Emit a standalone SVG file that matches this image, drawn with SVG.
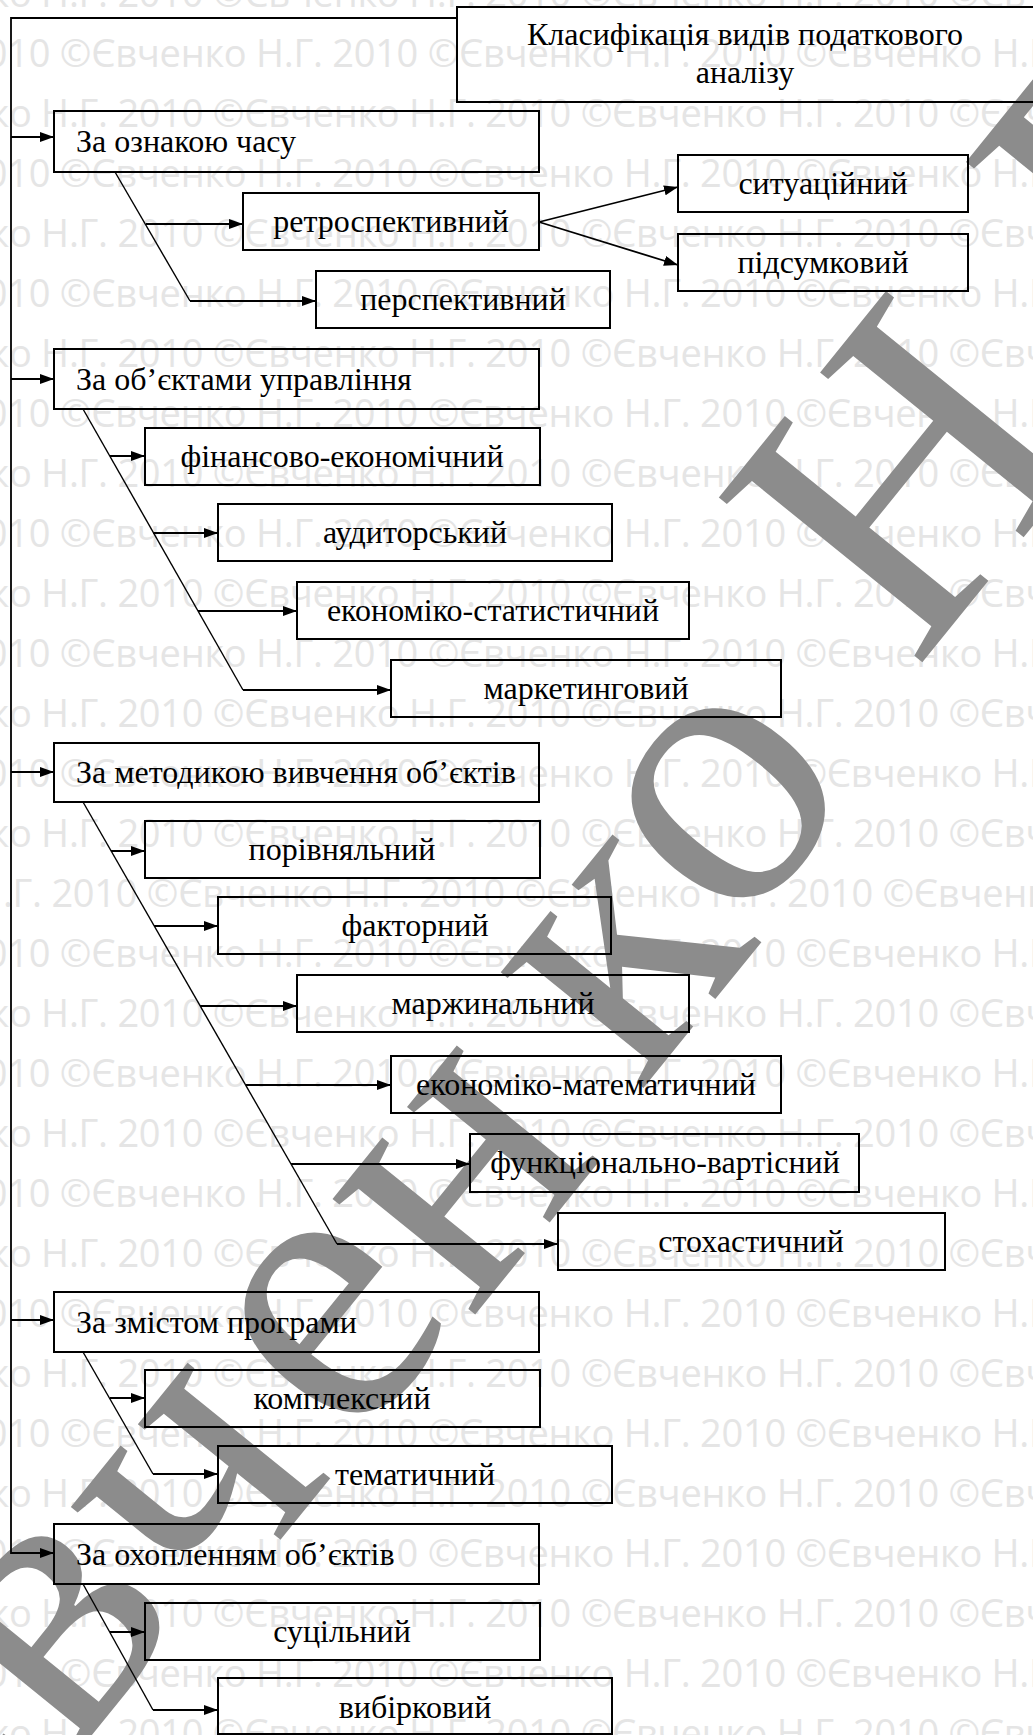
<svg xmlns="http://www.w3.org/2000/svg" xmlns:xlink="http://www.w3.org/1999/xlink" width="1033" height="1735" viewBox="0 0 1033 1735">
  <defs>
    <style>
      .wm { font-family: "Open Sans", "Noto Sans", sans-serif; font-size: 38px; fill: #e5e5e5; }
      .big { font-family: "Liberation Serif", "Times New Roman", serif; font-size: 400px; fill: #8c8c8c; text-anchor: middle; }
      .box { fill: none; stroke: #000; stroke-width: 2; }
      .lbl { font-family: "Liberation Serif", "Times New Roman", serif; font-size: 32px; fill: #000; }
      .c { text-anchor: middle; }
      .arr { fill: none; stroke: #000; stroke-width: 1.8; marker-end: url(#ah); }
      .dg { fill: none; stroke: #000; stroke-width: 1.4; }
    </style>
    <marker id="ah" markerUnits="userSpaceOnUse" markerWidth="14" markerHeight="10" refX="14" refY="5" orient="auto">
      <path d="M0,0 L14,5 L0,10 Z" fill="#000"/>
    </marker>
    <text id="wmrow" class="wm" x="0" y="0" textLength="1462" lengthAdjust="spacing">©Євченко Н.Г. 2010 ©Євченко Н.Г. 2010 ©Євченко Н.Г. 2010 ©Євченко Н.Г. 2010</text>
  </defs>

  <rect width="1033" height="1735" fill="#fff"/>

  <!-- light background watermark rows -->
  <g id="watermark-rows">
    <use xlink:href="#wmrow" x="-155" y="7"/>
    <use xlink:href="#wmrow" x="-308" y="67"/>
    <use xlink:href="#wmrow" x="-155" y="127"/>
    <use xlink:href="#wmrow" x="-308" y="187"/>
    <use xlink:href="#wmrow" x="-155" y="247"/>
    <use xlink:href="#wmrow" x="-308" y="307"/>
    <use xlink:href="#wmrow" x="-155" y="367"/>
    <use xlink:href="#wmrow" x="-308" y="427"/>
    <use xlink:href="#wmrow" x="-155" y="487"/>
    <use xlink:href="#wmrow" x="-308" y="547"/>
    <use xlink:href="#wmrow" x="-155" y="607"/>
    <use xlink:href="#wmrow" x="-308" y="667"/>
    <use xlink:href="#wmrow" x="-155" y="727"/>
    <use xlink:href="#wmrow" x="-308" y="787"/>
    <use xlink:href="#wmrow" x="-155" y="847"/>
    <use xlink:href="#wmrow" x="-221" y="907"/>
    <use xlink:href="#wmrow" x="-308" y="967"/>
    <use xlink:href="#wmrow" x="-155" y="1027"/>
    <use xlink:href="#wmrow" x="-308" y="1087"/>
    <use xlink:href="#wmrow" x="-155" y="1147"/>
    <use xlink:href="#wmrow" x="-308" y="1207"/>
    <use xlink:href="#wmrow" x="-155" y="1267"/>
    <use xlink:href="#wmrow" x="-308" y="1327"/>
    <use xlink:href="#wmrow" x="-155" y="1387"/>
    <use xlink:href="#wmrow" x="-308" y="1447"/>
    <use xlink:href="#wmrow" x="-155" y="1507"/>
    <use xlink:href="#wmrow" x="-308" y="1567"/>
    <use xlink:href="#wmrow" x="-155" y="1627"/>
    <use xlink:href="#wmrow" x="-308" y="1687"/>
    <use xlink:href="#wmrow" x="-155" y="1747"/>
  </g>

  <!-- large diagonal author mark, one glyph per element along the slanted baseline -->
  <g id="watermark-big">
    <text class="big" transform="translate(-13,1865) rotate(-51)">Є</text>
    <text class="big" transform="translate(130,1688) rotate(-51)">в</text>
    <text class="big" transform="translate(273,1549) rotate(-51)">ч</text>
    <text class="big" transform="translate(407,1383) rotate(-51)">е</text>
    <text class="big" transform="translate(538,1237) rotate(-51)">н</text>
    <text class="big" transform="translate(700,1018) rotate(-51)">к</text>
    <text class="big" transform="translate(800,861) rotate(-51)">о</text>
    <text class="big" transform="translate(1006,559) rotate(-51)">Н</text>
    <text class="big" transform="translate(1235,246) rotate(-51)">Г</text>
  </g>

  <!-- connectors -->
  <g id="connectors">
    <path class="arr" d="M457,18 H11 V1553 H54"/>
    <path class="arr" d="M11,137 H54"/>
    <path class="arr" d="M11,379 H54"/>
    <path class="arr" d="M11,772 H54"/>
    <path class="arr" d="M11,1320 H54"/>

    <!-- time -->
    <path class="dg" d="M115,172 L190,301"/>
    <path class="arr" d="M190,301 H316"/>
    <path class="arr" d="M146,224 H243"/>
    <path class="arr" d="M539,222 L678,187"/>
    <path class="arr" d="M539,222 L678,265"/>

    <!-- management objects -->
    <path class="dg" d="M83,409 L243,690"/>
    <path class="arr" d="M243,690 H391"/>
    <path class="arr" d="M110,456 H145"/>
    <path class="arr" d="M153,533 H218"/>
    <path class="arr" d="M198,611 H297"/>

    <!-- study methods -->
    <path class="dg" d="M83,802 L337,1244"/>
    <path class="arr" d="M337,1244 H558"/>
    <path class="arr" d="M111,851 H145"/>
    <path class="arr" d="M154,926 H218"/>
    <path class="arr" d="M200,1006 H297"/>
    <path class="arr" d="M246,1085 H391"/>
    <path class="arr" d="M291,1164 H470"/>

    <!-- programme content -->
    <path class="dg" d="M83,1352 L153,1474"/>
    <path class="arr" d="M153,1474 H218"/>
    <path class="arr" d="M110,1398 H145"/>

    <!-- coverage -->
    <path class="dg" d="M83,1584 L153,1710"/>
    <path class="arr" d="M153,1710 H218"/>
    <path class="arr" d="M110,1632 H145"/>
  </g>

  <!-- nodes -->
  <g id="title">
    <rect class="box" x="457" y="7" width="600" height="95"/>
    <text class="lbl c" x="745" y="45">Класифікація видів податкового</text>
    <text class="lbl c" x="745" y="83">аналізу</text>
  </g>

  <g id="by-time">
    <rect class="box" x="54" y="111" width="485" height="61"/>
    <text class="lbl" x="76" y="152">За ознакою часу</text>
  </g>
  <g id="retrospective">
    <rect class="box" x="243" y="193" width="296" height="57"/>
    <text class="lbl c" x="391" y="232">ретроспективний</text>
  </g>
  <g id="prospective">
    <rect class="box" x="316" y="271" width="294" height="57"/>
    <text class="lbl c" x="463" y="310">перспективний</text>
  </g>
  <g id="situational">
    <rect class="box" x="678" y="155" width="290" height="57"/>
    <text class="lbl c" x="823" y="194">ситуаційний</text>
  </g>
  <g id="summary">
    <rect class="box" x="678" y="234" width="290" height="57"/>
    <text class="lbl c" x="823" y="273">підсумковий</text>
  </g>

  <g id="by-objects">
    <rect class="box" x="54" y="349" width="485" height="60"/>
    <text class="lbl" x="76" y="390">За об’єктами управління</text>
  </g>
  <g id="financial">
    <rect class="box" x="145" y="428" width="395" height="57"/>
    <text class="lbl c" x="342" y="467">фінансово-економічний</text>
  </g>
  <g id="audit">
    <rect class="box" x="218" y="504" width="394" height="57"/>
    <text class="lbl c" x="415" y="543">аудиторський</text>
  </g>
  <g id="statistical">
    <rect class="box" x="297" y="582" width="392" height="57"/>
    <text class="lbl c" x="493" y="621">економіко-статистичний</text>
  </g>
  <g id="marketing">
    <rect class="box" x="391" y="660" width="390" height="57"/>
    <text class="lbl c" x="586" y="699">маркетинговий</text>
  </g>

  <g id="by-method">
    <rect class="box" x="54" y="743" width="485" height="59"/>
    <text class="lbl" x="76" y="783">За методикою вивчення об’єктів</text>
  </g>
  <g id="comparative">
    <rect class="box" x="145" y="821" width="395" height="57"/>
    <text class="lbl c" x="342" y="860">порівняльний</text>
  </g>
  <g id="factor">
    <rect class="box" x="218" y="897" width="393" height="57"/>
    <text class="lbl c" x="415" y="936">факторний</text>
  </g>
  <g id="marginal">
    <rect class="box" x="297" y="975" width="392" height="57"/>
    <text class="lbl c" x="493" y="1014">маржинальний</text>
  </g>
  <g id="math">
    <rect class="box" x="391" y="1056" width="390" height="57"/>
    <text class="lbl c" x="586" y="1095">економіко-математичний</text>
  </g>
  <g id="value">
    <rect class="box" x="470" y="1134" width="389" height="58"/>
    <text class="lbl c" x="665" y="1173">функціонально-вартісний</text>
  </g>
  <g id="stochastic">
    <rect class="box" x="558" y="1213" width="387" height="57"/>
    <text class="lbl c" x="751" y="1252">стохастичний</text>
  </g>

  <g id="by-content">
    <rect class="box" x="54" y="1292" width="485" height="60"/>
    <text class="lbl" x="76" y="1333">За змістом програми</text>
  </g>
  <g id="complex">
    <rect class="box" x="145" y="1370" width="395" height="57"/>
    <text class="lbl c" x="342" y="1409">комплексний</text>
  </g>
  <g id="thematic">
    <rect class="box" x="218" y="1446" width="394" height="57"/>
    <text class="lbl c" x="415" y="1485">тематичний</text>
  </g>

  <g id="by-coverage">
    <rect class="box" x="54" y="1524" width="485" height="60"/>
    <text class="lbl" x="76" y="1565">За охопленням об’єктів</text>
  </g>
  <g id="continuous">
    <rect class="box" x="145" y="1603" width="395" height="57"/>
    <text class="lbl c" x="342" y="1642">суцільний</text>
  </g>
  <g id="sample">
    <rect class="box" x="218" y="1678" width="394" height="56"/>
    <text class="lbl c" x="415" y="1718">вибірковий</text>
  </g>
</svg>
